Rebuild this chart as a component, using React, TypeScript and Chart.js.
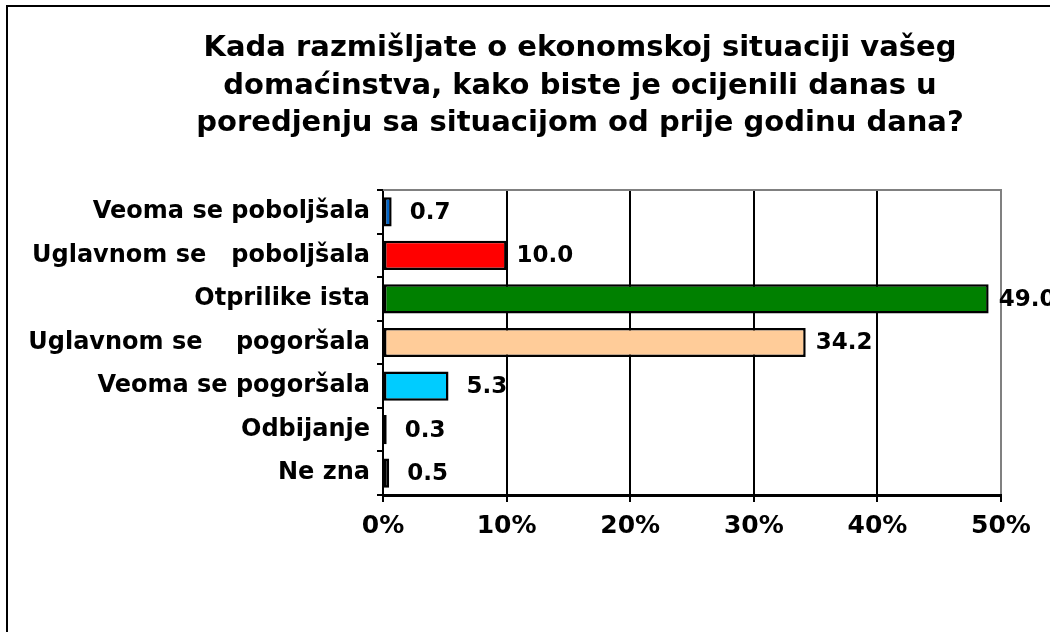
import React, { useEffect, useRef } from "react";
import { Chart, registerables } from "chart.js";

Chart.register(...registerables);

const categories = [
  "Veoma se poboljšala",
  "Uglavnom se   poboljšala",
  "Otprilike ista",
  "Uglavnom se    pogoršala",
  "Veoma se pogoršala",
  "Odbijanje",
  "Ne zna",
];
const values = [0.7, 10.0, 49.0, 34.2, 5.3, 0.3, 0.5];
const barColors = ["#0066CC", "#FF0000", "#008000", "#FFCC99", "#00CCFF", "#993333", "#A0A0A0"];
const titleLines = [
  "Kada razmišljate o ekonomskoj situaciji vašeg",
  "domaćinstva, kako biste je ocijenili danas u",
  "poredjenju sa situacijom od prije godinu dana?",
];
const xTicks = [0, 10, 20, 30, 40, 50];

const FONT = "'DejaVu Sans', Verdana, sans-serif";

const decorPlugin = {
  id: "decor",
  beforeDraw(chart: any) {
    const ctx = chart.ctx;
    ctx.save();
    ctx.fillStyle = "#ffffff";
    ctx.fillRect(0, 0, chart.width, chart.height);
    ctx.strokeStyle = "#000000";
    ctx.lineWidth = 2;
    ctx.beginPath();
    ctx.moveTo(7, chart.height + 10);
    ctx.lineTo(7, 6);
    ctx.lineTo(chart.width + 10, 6);
    ctx.stroke();
    ctx.fillStyle = "#000000";
    ctx.font = `bold 29px ${FONT}`;
    ctx.textAlign = "center";
    ctx.textBaseline = "alphabetic";
    titleLines.forEach((line, i) => ctx.fillText(line, 580, 56 + i * 37.5));
    ctx.restore();
  },
  beforeDatasetsDraw(chart: any) {
    const { ctx, chartArea } = chart;
    ctx.save();
    ctx.strokeStyle = "#808080";
    ctx.lineWidth = 2;
    ctx.beginPath();
    ctx.moveTo(chartArea.left, chartArea.top);
    ctx.lineTo(chartArea.right + 1, chartArea.top);
    ctx.stroke();
    ctx.restore();
  },
  afterDatasetsDraw(chart: any) {
    const ctx = chart.ctx;
    const meta = chart.getDatasetMeta(0);
    ctx.save();
    ctx.fillStyle = "#000000";
    ctx.font = `bold 23px ${FONT}`;
    ctx.textAlign = "center";
    ctx.textBaseline = "middle";
    const boxW = ctx.measureText("00.0").width;
    meta.data.forEach((el: any, i: number) => {
      const txt = values[i].toFixed(1);
      ctx.fillText(txt, el.x + 10 + boxW / 2, el.y + 1);
    });
    ctx.restore();
  },
};

export default function App() {
  const ref = useRef<HTMLCanvasElement | null>(null);

  useEffect(() => {
    if (!ref.current) return;
    const chart = new Chart(ref.current, {
      type: "bar",
      data: {
        labels: categories,
        datasets: [
          {
            data: values,
            backgroundColor: barColors,
            borderColor: "#000000",
            borderWidth: 2.5,
            borderSkipped: false,
            barPercentage: 0.67,
            categoryPercentage: 1,
          },
        ],
      },
      options: {
        indexAxis: "y",
        animation: false,
        responsive: false,
        devicePixelRatio: 1,
        layout: { padding: { top: 190, left: 0, right: 49, bottom: 0 } },
        plugins: {
          legend: { display: false },
          tooltip: { enabled: false },
          title: { display: false },
        },
        scales: {
          x: {
            type: "linear",
            min: 0,
            max: 50,
            afterBuildTicks: (scale: any) => {
              scale.ticks = xTicks.map((v) => ({ value: v }));
            },
            afterFit: (scale: any) => {
              scale.height = 137;
            },
            grid: {
              color: (c: any) => (c.tick && c.tick.value === 50 ? "#808080" : "#000000"),
              tickColor: "#000000",
              lineWidth: 2,
              drawTicks: true,
              tickLength: 7,
            },
            border: { display: true, color: "#000000", width: 3 },
            ticks: {
              color: "#000000",
              font: { family: FONT, size: 25, weight: "bold" },
              padding: 9,
              maxRotation: 0,
              callback: (v: any) => `${v}%`,
            },
          },
          y: {
            type: "category",
            afterFit: (scale: any) => {
              scale.width = 383;
            },
            grid: {
              drawOnChartArea: false,
              drawTicks: true,
              tickLength: 6,
              color: "#000000",
              lineWidth: 2,
              offset: true,
            },
            border: { display: true, color: "#000000", width: 2 },
            ticks: {
              color: "#000000",
              font: { family: FONT, size: 24, weight: "bold" },
              padding: 7,
              autoSkip: false,
            },
          },
        },
      },
      plugins: [decorPlugin],
    } as any);
    return () => chart.destroy();
  }, []);

  return (
    <div style={{ position: "fixed", left: 0, top: 0, width: 1050, height: 632, background: "#fff" }}>
      <canvas ref={ref} width={1050} height={632} style={{ display: "block", width: 1050, height: 632 }} />
    </div>
  );
}
